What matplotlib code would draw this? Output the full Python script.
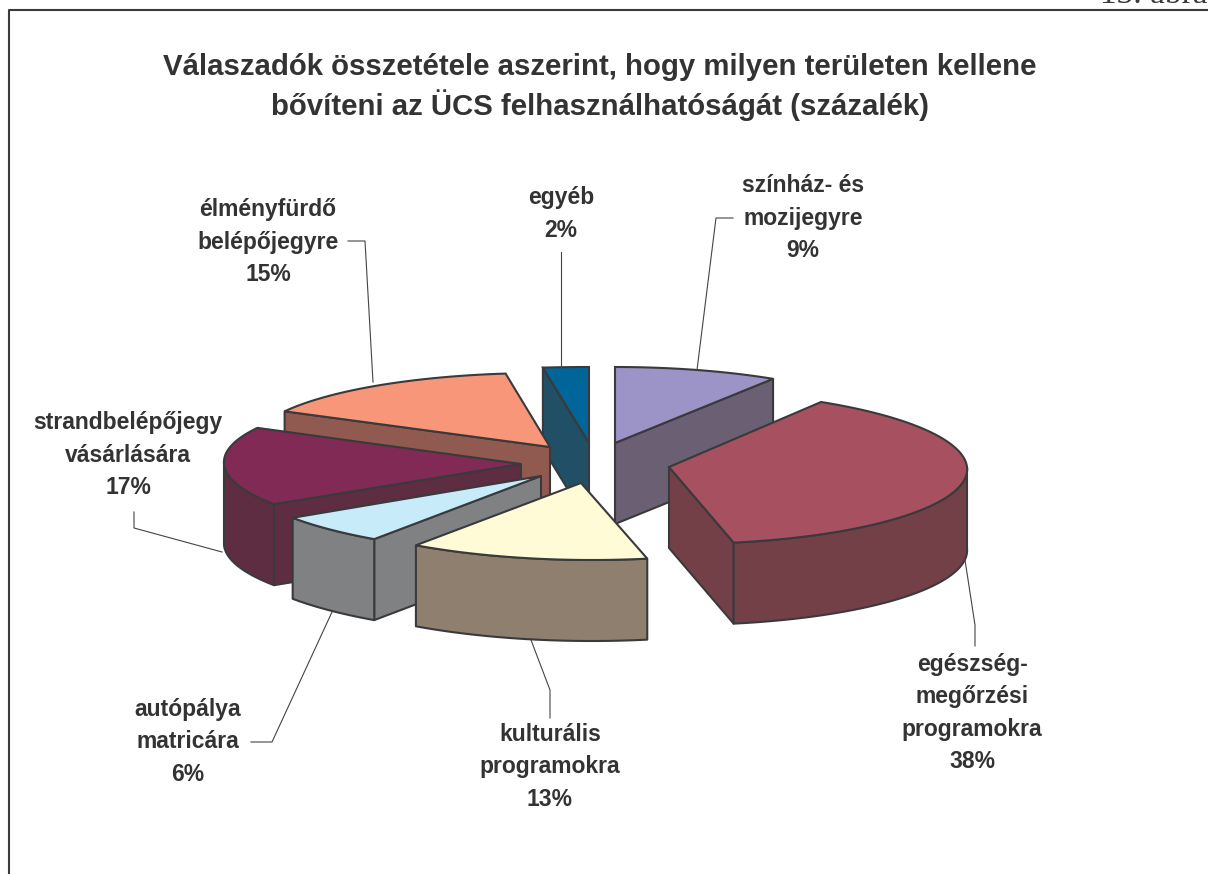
import numpy as np
from matplotlib import pyplot as plt
from matplotlib.patches import Polygon

plt.rcParams['font.family'] = ['Liberation Sans', 'DejaVu Sans']

labels = ["színház- és\nmozijegyre", "egészség-\nmegőrzési\nprogramokra", "kulturális\nprogramokra",
          "autópálya\nmatricára", "strandbelépőjegy\nvásárlására", "élményfürdő\nbelépőjegyre", "egyéb"]
values = [9, 38, 13, 6, 17, 15, 2]
top_colors = ["#9c93c6", "#a65060", "#fffbd6", "#c8ebfa", "#802a55", "#f79678", "#006699"]
wall_colors = ["#6b5f73", "#734048", "#8f7f6e", "#7f8183", "#5e2d42", "#915a50", "#204f66"]

# exploded layout of each slice: apex x, apex y, radius x, radius y, skew
layout = [(615, 443, 295, 76, 0), (669, 467, 298, 77, 9), (581, 483, 296, 77, 11),
          (541, 476, 303, 78, 14), (521, 464, 297, 75, 7), (550, 447, 299, 74, 7),
          (589, 443, 368, 76, 0)]
label_pos = [(803, 218), (972, 713), (550, 767), (188, 742), (128, 455), (268, 242), (561, 214)]
leaders = [[(697, 370), (716, 218), (733, 218)], [(965, 560), (975, 625), (975, 646)],
           [(531, 640), (550, 690), (550, 718)], [(332, 612), (272, 742), (251, 742)],
           [(222, 552), (134, 528), (134, 512)], [(373, 382), (365, 241), (348, 241)],
           [(561, 367), (561, 252)]]
draw_order = [6, 5, 0, 4, 1, 3, 2]
depth = 81
edge = "#3a3a3c"

fig = plt.figure(figsize=(12.08, 8.74), dpi=100)
ax = fig.add_axes([0, 0, 1, 1])
ax.set_xlim(0, 1208)
ax.set_ylim(874, 0)
ax.axis("off")

# frame, open to the right and bottom
ax.plot([9, 9, 1300], [900, 10, 10], color=edge, lw=1.5, clip_on=False)
ax.text(1208, 3, "13. ábra", family="Liberation Serif", fontsize=24, color=edge, ha="right", va="baseline")

ax.text(600, 87, "Válaszadók összetétele aszerint, hogy milyen területen kellene\n"
        "bővíteni az ÜCS felhasználhatóságát (százalék)", fontsize=21.2, fontweight="bold",
        color="#333333", ha="center", va="center", linespacing=1.35)


def rim(lay, t):
    ax_, ay, rx, ry, k = lay
    return np.column_stack([ax_ + rx * np.sin(t) - k * np.cos(t), ay - ry * np.cos(t)])


edges = np.radians(np.cumsum([0] + values) * 3.6)

for i in draw_order:
    lay = layout[i]
    t1, t2 = edges[i], edges[i + 1]
    apex = np.array([lay[0], lay[1]])
    down = np.array([0, depth])
    style = dict(facecolor=wall_colors[i], edgecolor=edge, lw=1.5, joinstyle="round")

    # cut face that looks to the viewer
    t_cut = t1 if np.sin(t1) < -1e-6 else (t2 if np.sin(t2) > 1e-6 else None)
    if t_cut is not None:
        p = rim(lay, np.array([t_cut]))[0]
        ax.add_patch(Polygon([apex, p, p + down, apex + down], **style))

    # outer wall, front half only
    a, b = max(t1, np.pi / 2), min(t2, 3 * np.pi / 2)
    if b > a:
        arc = rim(lay, np.linspace(a, b, 60))
        ax.add_patch(Polygon(np.vstack([arc, (arc + down)[::-1]]), **style))

    # top
    arc = rim(lay, np.linspace(t1, t2, 80))
    ax.add_patch(Polygon(np.vstack([apex, arc]), facecolor=top_colors[i], edgecolor=edge, lw=1.5))

for i, name in enumerate(labels):
    ax.plot(*zip(*leaders[i]), color="#444444", lw=0.8)
    x, y = label_pos[i]
    ax.text(x, y, f"{name}\n{values[i]}%", fontsize=16.5, fontweight="bold", color="#333333",
            ha="center", va="center", linespacing=1.53)

fig.savefig("out.png", dpi=100)
